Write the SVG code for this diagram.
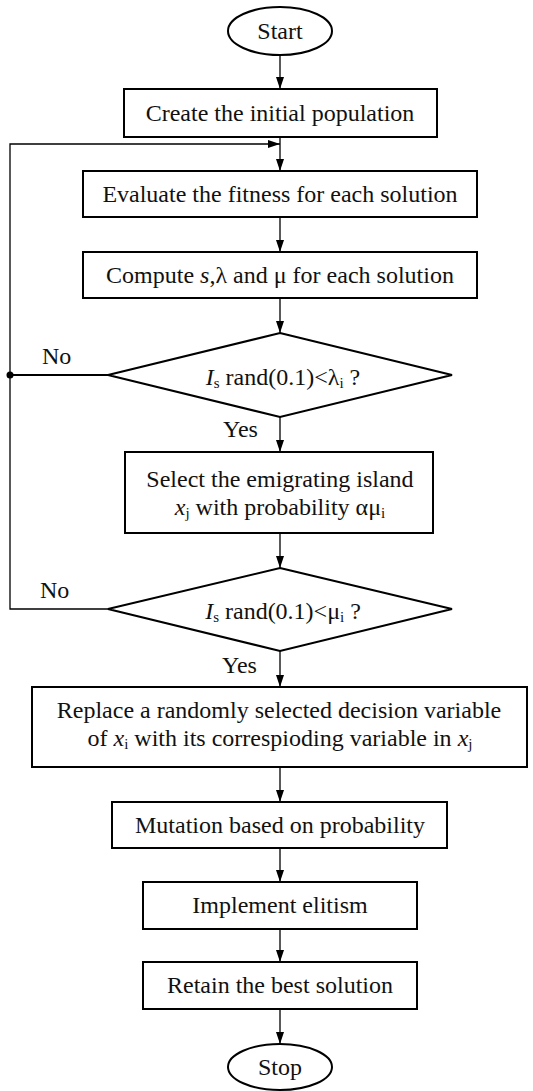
<svg xmlns="http://www.w3.org/2000/svg" width="533" height="1091" viewBox="0 0 533 1091">
<style>
.box{fill:#fff;stroke:#000;stroke-width:2}
.ln{fill:none;stroke:#000;stroke-width:1.3}
text{font-family:'Liberation Serif','DejaVu Serif',serif;font-size:24px;fill:#111}
.t{text-anchor:middle}
.sub{font-size:15px}
</style>
<defs>
<marker id="ah" markerWidth="12" markerHeight="8" refX="12" refY="4" orient="auto" markerUnits="userSpaceOnUse">
<path d="M0,0 L12,4 L0,8 Z" fill="#000"/>
</marker>
</defs>
<rect width="533" height="1091" fill="#fff"/>
<g id="connectors">
<line class="ln" x1="280" y1="55" x2="280" y2="89" marker-end="url(#ah)"/>
<line class="ln" x1="280" y1="137" x2="280" y2="171" marker-end="url(#ah)"/>
<line class="ln" x1="280" y1="217" x2="280" y2="252" marker-end="url(#ah)"/>
<line class="ln" x1="280" y1="298" x2="280" y2="333" marker-end="url(#ah)"/>
<line class="ln" x1="280" y1="417" x2="280" y2="452" marker-end="url(#ah)"/>
<line class="ln" x1="280" y1="533" x2="280" y2="568" marker-end="url(#ah)"/>
<line class="ln" x1="280" y1="651" x2="280" y2="687" marker-end="url(#ah)"/>
<line class="ln" x1="280" y1="767" x2="280" y2="802" marker-end="url(#ah)"/>
<line class="ln" x1="280" y1="848" x2="280" y2="882" marker-end="url(#ah)"/>
<line class="ln" x1="280" y1="929" x2="280" y2="962" marker-end="url(#ah)"/>
<line class="ln" x1="280" y1="1009" x2="280" y2="1044" marker-end="url(#ah)"/>
<polyline class="ln" points="108,609 10,609 10,144 280,144" marker-end="url(#ah)"/>
<line x1="10" y1="375" x2="108" y2="375" stroke="#000" stroke-width="2"/>
<circle cx="10" cy="375" r="3.5" fill="#000"/>
<text x="42" y="364">No</text>
<text x="40" y="598">No</text>
<text x="223" y="437">Yes</text>
<text x="222" y="673">Yes</text>
</g>
<g id="start">
<ellipse class="box" cx="280" cy="31" rx="52" ry="24"/>
<text class="t" x="280" y="39">Start</text>
</g>
<g id="create">
<rect class="box" x="124" y="89" width="313" height="48"/>
<text class="t" x="280" y="121">Create the initial population</text>
</g>
<g id="evaluate">
<rect class="box" x="83" y="171" width="394" height="46"/>
<text class="t" x="280" y="202">Evaluate the fitness for each solution</text>
</g>
<g id="compute">
<rect class="box" x="83" y="252" width="394" height="46"/>
<text class="t" x="280" y="283">Compute <tspan font-style="italic">s</tspan>,λ and μ for each solution</text>
</g>
<g id="decision1">
<polygon class="box" points="280,333 452,375 280,417 108,375"/>
<text class="t" x="283" y="385"><tspan font-style="italic">I</tspan><tspan class="sub" dy="3">s</tspan><tspan dy="-3"> rand(0.1)&lt;λ</tspan><tspan class="sub" dy="3">i</tspan><tspan dy="-3"> ?</tspan></text>
</g>
<g id="select">
<rect class="box" x="125" y="452" width="308" height="81"/>
<text class="t" x="280" y="487">Select the emigrating island</text>
<text class="t" x="280" y="515"><tspan font-style="italic">x</tspan><tspan class="sub" dy="3">j</tspan><tspan dy="-3"> with probability αμ</tspan><tspan class="sub" dy="3">i</tspan></text>
</g>
<g id="decision2">
<polygon class="box" points="280,568 452,609 280,651 108,609"/>
<text class="t" x="283" y="619"><tspan font-style="italic">I</tspan><tspan class="sub" dy="3">s</tspan><tspan dy="-3"> rand(0.1)&lt;μ</tspan><tspan class="sub" dy="3">i</tspan><tspan dy="-3"> ?</tspan></text>
</g>
<g id="replace">
<rect class="box" x="32" y="687" width="495" height="80"/>
<text class="t" x="279" y="718">Replace a randomly selected decision variable</text>
<text class="t" x="280" y="746">of <tspan font-style="italic">x</tspan><tspan class="sub" dy="3">i</tspan><tspan dy="-3"> with its correspioding variable in </tspan><tspan font-style="italic">x</tspan><tspan class="sub" dy="3">j</tspan></text>
</g>
<g id="mutation">
<rect class="box" x="112" y="802" width="335" height="46"/>
<text class="t" x="280" y="833">Mutation based on probability</text>
</g>
<g id="elitism">
<rect class="box" x="143" y="882" width="274" height="47"/>
<text class="t" x="280" y="913">Implement elitism</text>
</g>
<g id="retain">
<rect class="box" x="143" y="962" width="274" height="47"/>
<text class="t" x="280" y="993">Retain the best solution</text>
</g>
<g id="stop">
<ellipse class="box" cx="280" cy="1067" rx="52" ry="23"/>
<text class="t" x="280" y="1075">Stop</text>
</g>
</svg>
